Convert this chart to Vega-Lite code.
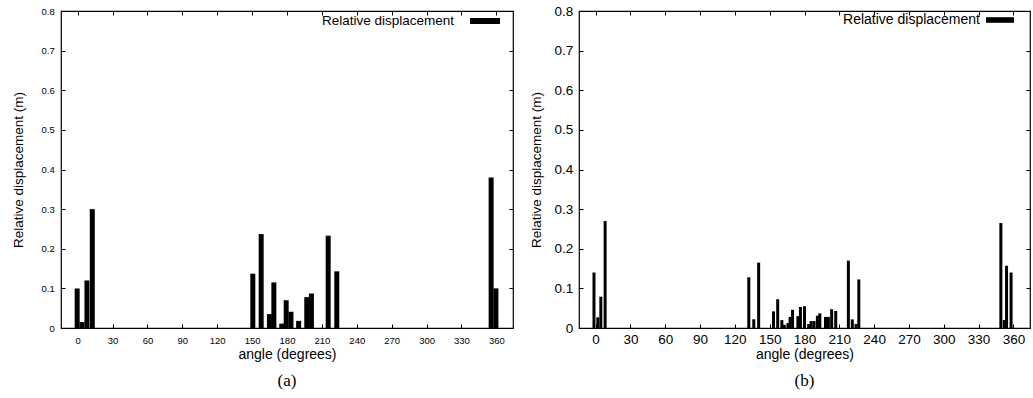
{
  "$schema": "https://vega.github.io/schema/vega-lite/v6.json",
  "padding": {"left": 10, "top": 3, "right": 3, "bottom": 5},
  "bounds": "flush",
  "spacing": 66,
  "resolve": {"scale": {"color": "independent"}, "legend": {"color": "independent"}},
  "config": {
    "font": "Liberation Sans",
    "view": {"stroke": "black", "strokeWidth": 1.2},
    "axis": {
      "grid": false,
      "domain": false,
      "ticks": true,
      "tickSize": 4,
      "offset": -4,
      "tickColor": "black",
      "tickWidth": 1,
      "labelColor": "black",
      "titleColor": "black",
      "titleFontWeight": "normal",
      "labelFlush": false,
      "labelOverlap": false,
      "labelBound": false
    },
    "title": {"font": "Liberation Serif", "fontWeight": "normal", "color": "black"}
  },
  "datasets": {
    "a": [
      {"angle": -0.4, "displacement": 0.1},
      {"angle": 3.8, "displacement": 0.015},
      {"angle": 8, "displacement": 0.12},
      {"angle": 12.6, "displacement": 0.3},
      {"angle": 150.6, "displacement": 0.137},
      {"angle": 157.8, "displacement": 0.237},
      {"angle": 164.9, "displacement": 0.035},
      {"angle": 168.7, "displacement": 0.115},
      {"angle": 175.5, "displacement": 0.011},
      {"angle": 179.3, "displacement": 0.07},
      {"angle": 183.4, "displacement": 0.041},
      {"angle": 190, "displacement": 0.018},
      {"angle": 197, "displacement": 0.078},
      {"angle": 201, "displacement": 0.087},
      {"angle": 215.4, "displacement": 0.233},
      {"angle": 222.8, "displacement": 0.143},
      {"angle": 355.5, "displacement": 0.38},
      {"angle": 359.6, "displacement": 0.1}
    ],
    "b": [
      {"angle": -1.4, "displacement": 0.14},
      {"angle": 1.9, "displacement": 0.027},
      {"angle": 4.5, "displacement": 0.079},
      {"angle": 8.2, "displacement": 0.27},
      {"angle": 132, "displacement": 0.128},
      {"angle": 136.3, "displacement": 0.022},
      {"angle": 140.5, "displacement": 0.165},
      {"angle": 153.3, "displacement": 0.042},
      {"angle": 156.9, "displacement": 0.0725},
      {"angle": 160.5, "displacement": 0.02},
      {"angle": 162.6, "displacement": 0.008},
      {"angle": 165.7, "displacement": 0.0125},
      {"angle": 167.6, "displacement": 0.028},
      {"angle": 169.7, "displacement": 0.046},
      {"angle": 174.3, "displacement": 0.03},
      {"angle": 176.5, "displacement": 0.053},
      {"angle": 180, "displacement": 0.055},
      {"angle": 183.6, "displacement": 0.01},
      {"angle": 185.7, "displacement": 0.0175},
      {"angle": 188.2, "displacement": 0.0175},
      {"angle": 191.1, "displacement": 0.031},
      {"angle": 193.2, "displacement": 0.037},
      {"angle": 198.1, "displacement": 0.028},
      {"angle": 200.6, "displacement": 0.028},
      {"angle": 203.4, "displacement": 0.0475},
      {"angle": 206.9, "displacement": 0.043},
      {"angle": 217.8, "displacement": 0.17},
      {"angle": 221.2, "displacement": 0.0217},
      {"angle": 224.4, "displacement": 0.01},
      {"angle": 226.8, "displacement": 0.1225},
      {"angle": 349.2, "displacement": 0.265},
      {"angle": 352.2, "displacement": 0.02},
      {"angle": 354.1, "displacement": 0.157},
      {"angle": 358, "displacement": 0.14}
    ]
  },
  "hconcat": [
    {
      "width": 452,
      "height": 317,
      "title": {"text": "(a)", "orient": "bottom", "anchor": "middle", "frame": "group", "fontSize": 17, "offset": 12},
      "data": {"name": "a"},
      "layer": [
        {
          "mark": {"type": "bar", "width": 5},
          "encoding": {
            "x": {
              "field": "angle", "type": "quantitative",
              "scale": {"domain": [-10, 370], "nice": false, "zero": false},
              "axis": {
                "orient": "bottom", "title": "angle (degrees)",
                "values": [0, 30, 60, 90, 120, 150, 180, 210, 240, 270, 300, 330, 360],
                "labelFontSize": 9.5, "labelPadding": 7.25,
                "titleFontSize": 14, "titleY": 30, "titleBaseline": "middle"
              }
            },
            "y": {
              "field": "displacement", "type": "quantitative",
              "scale": {"domain": [0, 0.8], "nice": false},
              "axis": {
                "orient": "left", "title": "Relative displacement (m)",
                "values": [0, 0.1, 0.2, 0.3, 0.4, 0.5, 0.6, 0.7, 0.8], "format": "~g",
                "labelFontSize": 9.5, "labelPadding": 6.7,
                "titleFontSize": 13.5, "titleX": -47, "titleY": 158.5,
                "titleBaseline": "middle", "titleAlign": "center", "titleAngle": 270
              }
            },
            "color": {
              "datum": "Relative displacement",
              "scale": {"range": ["black"]},
              "legend": {
                "title": null, "orient": "none", "legendX": 409, "legendY": -5,
                "symbolType": "M-1,-0.2H1V0.2H-1Z", "symbolSize": 900,
                "symbolStrokeWidth": 0, "symbolOpacity": 1,
                "labelAlign": "right", "labelOffset": -46,
                "labelFontSize": 13.5, "labelColor": "black", "padding": 0
              }
            }
          }
        },
        {
          "mark": {"type": "bar", "width": 5, "opacity": 0},
          "encoding": {
            "x": {
              "field": "angle", "type": "quantitative",
              "axis": {"orient": "top", "title": null, "labels": false,
                "values": [0, 30, 60, 90, 120, 150, 180, 210, 240, 270, 300, 330, 360]}
            },
            "y": {
              "field": "displacement", "type": "quantitative",
              "axis": {"orient": "right", "title": null, "labels": false,
                "values": [0, 0.1, 0.2, 0.3, 0.4, 0.5, 0.6, 0.7, 0.8]}
            }
          }
        }
      ],
      "resolve": {"axis": {"x": "independent", "y": "independent"}}
    },
    {
      "width": 451,
      "height": 317,
      "title": {"text": "(b)", "orient": "bottom", "anchor": "middle", "frame": "group", "fontSize": 17, "offset": 12},
      "data": {"name": "b"},
      "layer": [
        {
          "mark": {"type": "bar", "width": 3},
          "encoding": {
            "x": {
              "field": "angle", "type": "quantitative",
              "scale": {"domain": [-10, 370], "nice": false, "zero": false},
              "axis": {
                "orient": "bottom", "title": "angle (degrees)",
                "values": [0, 30, 60, 90, 120, 150, 180, 210, 240, 270, 300, 330, 360],
                "labelFontSize": 13.5, "labelPadding": 4,
                "titleFontSize": 14, "titleY": 30, "titleBaseline": "middle"
              }
            },
            "y": {
              "field": "displacement", "type": "quantitative",
              "scale": {"domain": [0, 0.8], "nice": false},
              "axis": {
                "orient": "left", "title": "Relative displacement (m)",
                "values": [0, 0.1, 0.2, 0.3, 0.4, 0.5, 0.6, 0.7, 0.8], "format": "~g",
                "labelFontSize": 13.5, "labelPadding": 6.3,
                "titleFontSize": 13.5, "titleX": -47, "titleY": 158.5,
                "titleBaseline": "middle", "titleAlign": "center", "titleAngle": 270
              }
            },
            "color": {
              "datum": "Relative displacement",
              "scale": {"range": ["black"]},
              "legend": {
                "title": null, "orient": "none", "legendX": 407, "legendY": -5,
                "symbolType": "M-1,-0.2H1V0.2H-1Z", "symbolSize": 784,
                "symbolStrokeWidth": 0, "symbolOpacity": 1,
                "labelAlign": "right", "labelOffset": -34,
                "labelFontSize": 14, "labelColor": "black", "padding": 0
              }
            }
          }
        },
        {
          "mark": {"type": "bar", "width": 3, "opacity": 0},
          "encoding": {
            "x": {
              "field": "angle", "type": "quantitative",
              "axis": {"orient": "top", "title": null, "labels": false,
                "values": [0, 30, 60, 90, 120, 150, 180, 210, 240, 270, 300, 330, 360]}
            },
            "y": {
              "field": "displacement", "type": "quantitative",
              "axis": {"orient": "right", "title": null, "labels": false,
                "values": [0, 0.1, 0.2, 0.3, 0.4, 0.5, 0.6, 0.7, 0.8]}
            }
          }
        }
      ],
      "resolve": {"axis": {"x": "independent", "y": "independent"}}
    }
  ]
}
